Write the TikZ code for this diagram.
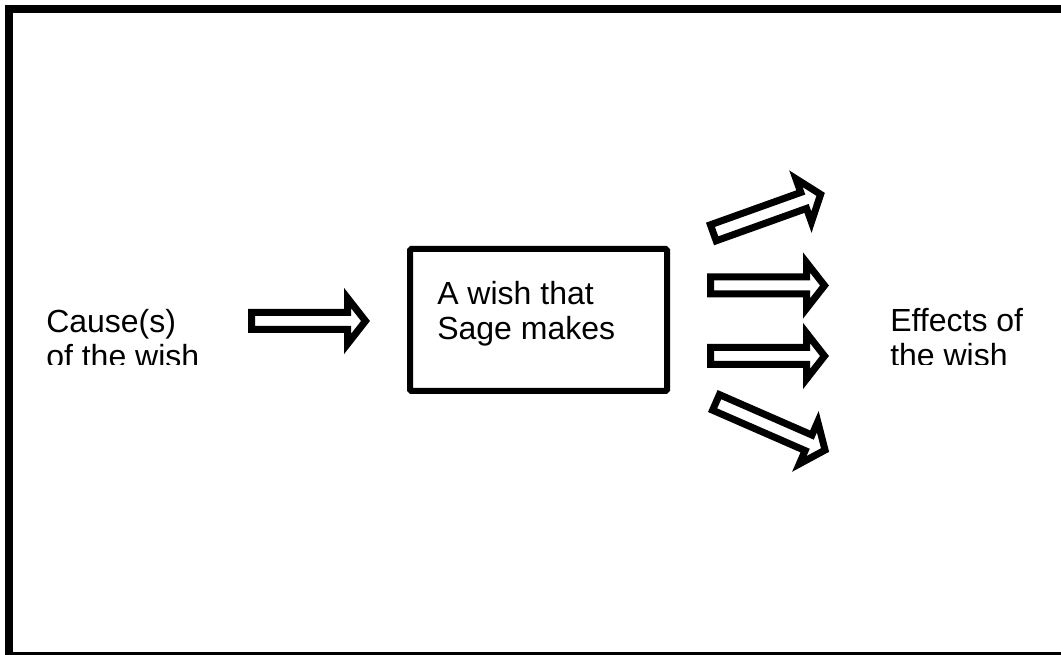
\documentclass[tikz,border=0pt]{standalone}
\usepackage{fontspec}
\setmainfont{Liberation Sans}
\begin{document}
\begin{tikzpicture}[x=0.75pt,y=-0.75pt,
  frame/.style={line width=6pt},
  blockarrow/.style={line width=5.25pt,miter limit=10},
  wishbox/.style={draw,line width=4.5pt,rounded corners=1pt,minimum width=192.75pt,minimum height=106.5pt,inner sep=0pt},
  label/.style={inner sep=0pt,align=left,font=\fontsize{24}{26.25}\selectfont}]
\useasboundingbox (0,0) rectangle (1061,655);
\begin{scope}
\clip (0,0) rectangle (1061,655);
\draw[frame] (9,9) rectangle (1080,656);
\end{scope}
\newcommand\arrowshape{(0,-8.5) -- (96,-8.5) -- (96,-23) -- (114,0) -- (96,23) -- (96,8.5) -- (0,8.5) -- cycle}
\node[wishbox] (wish) at (538.5,320) {};
\node[label,anchor=base west] (wishtext) at (437,340) {A wish that\\Sage makes};
\begin{scope}
\clip (0,0) rectangle (1061,365);
\node[label,anchor=base west] (cause) at (46,368) {Cause(s)\\of the wish};
\node[label,anchor=base west] (effects) at (890,367) {Effects of\\the wish};
\end{scope}
\draw[blockarrow,shift={(251.5,321)}] \arrowshape;
\draw[blockarrow,shift={(713.3,232.8)},rotate=19.7] \arrowshape;
\draw[blockarrow,shift={(710.5,285.5)}] \arrowshape;
\draw[blockarrow,shift={(710.5,356)}] \arrowshape;
\draw[blockarrow,shift={(716,402.4)},rotate=-23.6] (0,-8.5) -- (101,-8.5) -- (101,-23) -- (119,0) -- (101,23) -- (101,8.5) -- (0,8.5) -- cycle;
\end{tikzpicture}
\end{document}
